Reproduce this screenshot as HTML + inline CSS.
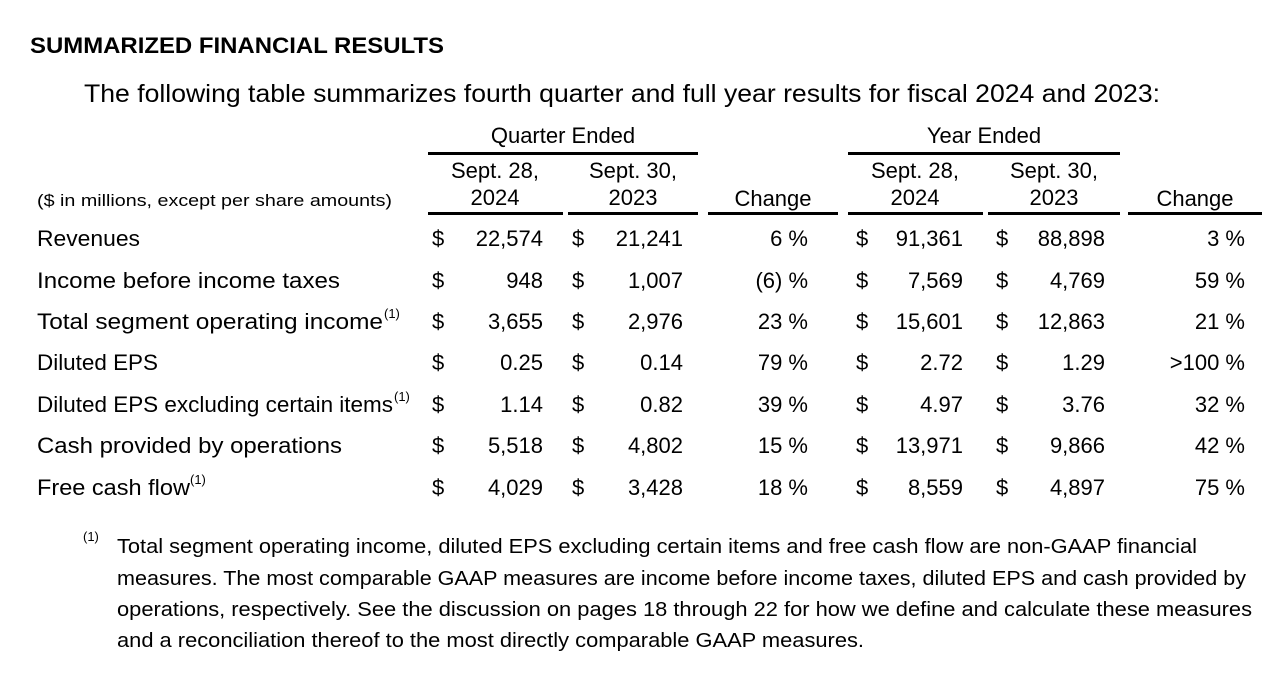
<!DOCTYPE html>
<html><head><meta charset="utf-8"><style>
html,body{margin:0;padding:0;background:#fff;}
svg{display:block;font-family:"Liberation Sans",sans-serif;fill:#000;}
</style></head><body>
<svg width="1284" height="686" viewBox="0 0 1284 686" xmlns="http://www.w3.org/2000/svg">
<text x="30" y="53" font-size="22" font-weight="bold" textLength="414" lengthAdjust="spacingAndGlyphs">SUMMARIZED FINANCIAL RESULTS</text>
<text x="84" y="102" font-size="25" textLength="1076" lengthAdjust="spacingAndGlyphs">The following table summarizes fourth quarter and full year results for fiscal 2024 and 2023:</text>
<g font-size="22" text-anchor="middle">
<text x="563" y="143">Quarter Ended</text>
<text x="984" y="143">Year Ended</text>
<text x="495" y="178">Sept. 28,</text><text x="495" y="205">2024</text>
<text x="633" y="178">Sept. 30,</text><text x="633" y="205">2023</text>
<text x="773" y="206">Change</text>
<text x="915" y="178">Sept. 28,</text><text x="915" y="205">2024</text>
<text x="1054" y="178">Sept. 30,</text><text x="1054" y="205">2023</text>
<text x="1195" y="206">Change</text>
</g>
<text x="37" y="206" font-size="17" textLength="355" lengthAdjust="spacingAndGlyphs">($ in millions, except per share amounts)</text>
<g fill="#000">
<rect x="428" y="152" width="270" height="3"/>
<rect x="848" y="152" width="272" height="3"/>
<rect x="428" y="212" width="135" height="3"/>
<rect x="568" y="212" width="130" height="3"/>
<rect x="708" y="212" width="130" height="3"/>
<rect x="848" y="212" width="135" height="3"/>
<rect x="988" y="212" width="132" height="3"/>
<rect x="1128" y="212" width="134" height="3"/>
</g>
<g font-size="22">
<text x="37" y="246" textLength="103" lengthAdjust="spacingAndGlyphs">Revenues</text>
<text x="37" y="288" textLength="303" lengthAdjust="spacingAndGlyphs">Income before income taxes</text>
<text x="37" y="329" textLength="346" lengthAdjust="spacingAndGlyphs">Total segment operating income</text>
<text x="384" y="318" font-size="13">(1)</text>
<text x="37" y="370" textLength="121" lengthAdjust="spacingAndGlyphs">Diluted EPS</text>
<text x="37" y="412" textLength="356" lengthAdjust="spacingAndGlyphs">Diluted EPS excluding certain items</text>
<text x="394" y="401" font-size="13">(1)</text>
<text x="37" y="453" textLength="305" lengthAdjust="spacingAndGlyphs">Cash provided by operations</text>
<text x="37" y="495" textLength="153" lengthAdjust="spacingAndGlyphs">Free cash flow</text>
<text x="190" y="484" font-size="13">(1)</text>
</g>
<g font-size="22">
<g>
<text x="432" y="246">$</text><text x="572" y="246">$</text><text x="856" y="246">$</text><text x="996" y="246">$</text>
<text x="432" y="288">$</text><text x="572" y="288">$</text><text x="856" y="288">$</text><text x="996" y="288">$</text>
<text x="432" y="329">$</text><text x="572" y="329">$</text><text x="856" y="329">$</text><text x="996" y="329">$</text>
<text x="432" y="370">$</text><text x="572" y="370">$</text><text x="856" y="370">$</text><text x="996" y="370">$</text>
<text x="432" y="412">$</text><text x="572" y="412">$</text><text x="856" y="412">$</text><text x="996" y="412">$</text>
<text x="432" y="453">$</text><text x="572" y="453">$</text><text x="856" y="453">$</text><text x="996" y="453">$</text>
<text x="432" y="495">$</text><text x="572" y="495">$</text><text x="856" y="495">$</text><text x="996" y="495">$</text>
</g>
<g text-anchor="end">
<text x="543" y="246">22,574</text><text x="683" y="246">21,241</text><text x="808" y="246">6 %</text><text x="963" y="246">91,361</text><text x="1105" y="246">88,898</text><text x="1245" y="246">3 %</text>
<text x="543" y="288">948</text><text x="683" y="288">1,007</text><text x="808" y="288">(6) %</text><text x="963" y="288">7,569</text><text x="1105" y="288">4,769</text><text x="1245" y="288">59 %</text>
<text x="543" y="329">3,655</text><text x="683" y="329">2,976</text><text x="808" y="329">23 %</text><text x="963" y="329">15,601</text><text x="1105" y="329">12,863</text><text x="1245" y="329">21 %</text>
<text x="543" y="370">0.25</text><text x="683" y="370">0.14</text><text x="808" y="370">79 %</text><text x="963" y="370">2.72</text><text x="1105" y="370">1.29</text><text x="1245" y="370">&gt;100 %</text>
<text x="543" y="412">1.14</text><text x="683" y="412">0.82</text><text x="808" y="412">39 %</text><text x="963" y="412">4.97</text><text x="1105" y="412">3.76</text><text x="1245" y="412">32 %</text>
<text x="543" y="453">5,518</text><text x="683" y="453">4,802</text><text x="808" y="453">15 %</text><text x="963" y="453">13,971</text><text x="1105" y="453">9,866</text><text x="1245" y="453">42 %</text>
<text x="543" y="495">4,029</text><text x="683" y="495">3,428</text><text x="808" y="495">18 %</text><text x="963" y="495">8,559</text><text x="1105" y="495">4,897</text><text x="1245" y="495">75 %</text>
</g>
</g>
<text x="83" y="541" font-size="13">(1)</text>
<g font-size="20">
<text x="117" y="553" textLength="1080" lengthAdjust="spacingAndGlyphs">Total segment operating income, diluted EPS excluding certain items and free cash flow are non-GAAP financial</text>
<text x="117" y="585" textLength="1129" lengthAdjust="spacingAndGlyphs">measures. The most comparable GAAP measures are income before income taxes, diluted EPS and cash provided by</text>
<text x="117" y="616" textLength="1135" lengthAdjust="spacingAndGlyphs">operations, respectively. See the discussion on pages 18 through 22 for how we define and calculate these measures</text>
<text x="117" y="647" textLength="747" lengthAdjust="spacingAndGlyphs">and a reconciliation thereof to the most directly comparable GAAP measures.</text>
</g>
</svg>
</body></html>
